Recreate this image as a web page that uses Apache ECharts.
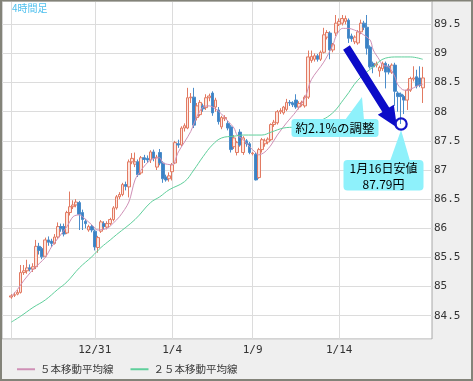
<!DOCTYPE html>
<html><head><meta charset="utf-8">
<script src="https://cdn.jsdelivr.net/npm/echarts@6/dist/echarts.min.js"></script>
<style>html,body{margin:0;padding:0;background:#fff}#c{width:473px;height:381px}</style>
</head><body><div id="c"></div><script>
// 4-hour candles [open, close, low, high]
const candles = [
[84.82,84.84,84.79,84.87],[84.85,84.86,84.82,84.90],[84.87,84.90,84.85,84.94],[84.90,85.24,84.88,85.37],
[85.24,85.27,85.20,85.37],[85.27,85.32,85.22,85.46],[85.32,85.30,85.26,85.38],[85.30,85.34,85.25,85.40],
[85.34,85.69,85.30,85.80],[85.69,85.62,85.55,85.75],[85.65,85.51,85.47,85.68],[85.52,85.80,85.50,85.84],
[85.80,85.76,85.70,85.86],[85.78,85.74,85.68,85.82],[85.74,85.85,85.72,85.90],[85.85,86.03,85.82,86.10],
[86.03,85.99,85.94,86.08],[86.03,85.90,85.86,86.08],[85.92,86.27,85.90,86.30],[86.27,86.37,86.22,86.63],
[86.37,86.40,86.33,86.48],[86.40,86.45,86.36,86.50],[86.44,86.24,85.97,86.47],[86.27,86.15,85.97,86.32],
[86.12,86.08,86.00,86.16],[85.97,86.03,85.94,86.06],[86.03,85.97,85.93,86.06],[85.95,85.68,85.62,85.98],
[85.67,85.84,85.58,85.87],[85.95,86.11,85.92,86.14],[86.08,86.03,85.98,86.12],[86.02,86.08,85.98,86.12],
[86.08,86.15,86.05,86.18],[86.15,86.35,86.12,86.38],[86.35,86.54,86.32,86.57],[86.54,86.58,86.50,86.62],
[86.58,86.75,86.55,86.78],[86.75,86.72,86.65,86.80],[86.71,87.14,86.53,87.18],[87.14,87.20,87.10,87.29],
[87.10,87.14,87.05,87.30],[87.14,86.92,86.88,87.18],[86.95,87.21,86.92,87.24],[87.21,87.18,87.12,87.26],
[87.20,87.17,87.12,87.25],[87.17,87.31,87.12,87.34],[87.31,87.20,87.15,87.35],[87.05,87.22,87.00,87.26],
[87.30,87.12,87.08,87.36],[87.12,86.85,86.78,87.15],[86.88,86.83,86.80,86.92],[86.85,86.90,86.80,86.96],
[86.97,87.09,86.82,87.12],[87.12,87.47,87.10,87.50],[87.45,87.43,87.38,87.52],[87.43,87.72,87.40,87.75],
[87.72,87.76,87.66,87.80],[87.72,88.24,87.70,88.41],[88.24,88.25,88.15,88.32],[88.25,87.77,87.72,88.41],
[87.90,88.10,87.85,88.15],[87.95,88.16,87.92,88.20],[88.10,88.05,88.00,88.14],[88.07,88.24,88.03,88.30],
[88.24,88.27,88.18,88.31],[88.32,87.98,87.93,88.35],[88.08,88.20,88.00,88.24],[88.03,87.83,87.78,88.08],
[87.74,87.90,87.70,87.93],[87.88,87.90,87.84,87.94],[87.80,87.72,87.68,87.84],[87.74,87.35,87.30,87.77],
[87.40,87.55,87.36,87.60],[87.30,87.47,87.25,87.50],[87.65,87.43,87.40,87.70],[87.30,87.55,87.26,87.58],
[87.50,87.45,87.40,87.53],[87.45,87.30,87.27,87.48],[87.28,87.29,87.25,87.31],[87.27,86.83,86.82,87.30],
[86.87,87.35,86.85,87.38],[87.35,87.52,87.30,87.55],[87.45,87.50,87.40,87.54],[87.48,87.53,87.44,87.56],
[87.52,87.78,87.50,87.80],[87.78,87.82,87.74,87.86],[87.81,88.00,87.78,88.03],[88.00,88.02,87.96,88.06],
[87.98,88.08,87.95,88.10],[88.04,88.16,88.01,88.22],[88.16,88.15,88.10,88.20],[88.15,88.12,88.08,88.18],
[88.20,88.08,88.05,88.30],[88.08,88.14,88.04,88.18],[88.12,88.16,88.09,88.19],[88.10,88.25,88.07,88.28],
[88.25,88.94,88.22,89.05],[88.88,88.95,88.84,89.05],[88.90,88.96,88.86,89.00],[88.96,88.90,88.86,88.99],
[88.90,89.02,88.87,89.05],[89.02,89.32,89.00,89.44],[89.28,89.36,89.24,89.40],[89.35,89.06,88.90,89.38],
[89.06,89.15,89.02,89.18],[89.35,89.52,89.30,89.66],[89.50,89.55,89.47,89.60],[89.52,89.60,89.48,89.66],
[89.55,89.60,89.50,89.65],[89.57,89.26,89.18,89.60],[89.30,89.25,89.20,89.34],[89.20,89.28,89.16,89.31],
[89.18,89.37,89.15,89.40],[89.37,89.52,89.33,89.58],[89.52,89.45,89.40,89.56],[89.45,89.09,88.98,89.66],
[89.11,88.77,88.74,89.14],[88.83,88.77,88.66,88.86],[88.80,88.82,88.76,88.86],[88.70,88.76,88.60,88.79],
[88.74,88.83,88.70,88.86],[88.83,88.68,88.40,88.86],[88.78,88.68,88.64,88.82],[88.68,88.80,88.65,88.83],
[88.80,88.35,88.10,88.84],[88.32,88.26,88.00,88.35],[88.30,88.26,87.79,88.33],[88.26,88.20,87.96,88.29],
[88.20,88.37,88.03,88.40],[88.37,88.57,88.34,88.60],[88.56,88.58,88.52,88.78],[88.60,88.44,88.40,88.72],
[88.58,88.45,88.42,88.78],[88.41,88.58,88.15,88.77]
];
// moving averages: [bar index, value]
const ma5 = [[0,84.83],[2,84.95],[4,85.10],[7,85.29],[11,85.50],[13,85.68],[18,86.03],[20,86.20],[22,86.23],[23,86.20],[26,86.06],[28,85.97],[31,86.00],[33,86.09],[35,86.20],[38,86.45],[40,86.83],[42,87.00],[45,87.17],[48,87.21],[49,87.12],[52,87.09],[54,87.31],[56,87.48],[58,87.66],[60,87.92],[62,88.08],[64,88.10],[66,88.05],[68,87.96],[70,87.84],[72,87.72],[73,87.60],[75,87.52],[77,87.40],[79,87.30],[80,87.26],[82,87.31],[84,87.43],[86,87.60],[89,87.81],[92,88.00],[95,88.25],[97,88.55],[101,88.85],[104,89.15],[105,89.30],[107,89.43],[109,89.43],[111,89.40],[113,89.35],[116,89.23],[117,89.06],[119,88.89],[120,88.80],[122,88.77],[124,88.60],[125,88.46],[127,88.37],[128,88.37],[130,88.41],[132,88.46],[133,88.47]];
const ma25 = [[0,84.39],[3,84.49],[7,84.64],[11,84.77],[15,84.95],[18,85.08],[22,85.32],[26,85.51],[29,85.67],[32,85.80],[34,85.89],[40,86.15],[45,86.44],[48,86.54],[51,86.66],[56,86.80],[59,87.00],[62,87.23],[65,87.43],[68,87.55],[72,87.58],[75,87.60],[81,87.60],[84,87.65],[88,87.72],[92,87.74],[97,87.80],[103,87.94],[108,88.25],[112,88.54],[117,88.77],[121,88.92],[125,88.94],[129,88.94],[133,88.90]];
const dayStarts = [0, 27, 52, 78, 106];
const dayLabels = ['', '12/31', '1/4', '1/9', '1/14'];
const seriesNames = ['５本移動平均線', '２５本移動平均線'];
const lowIndex = 126, lowValue = 87.79;
const titleText = '4時間足';
const note1 = '約2.1%の調整';
const note2 = ['1月16日安値', '87.79円'];

const PAD = 3;
const N = candles.length + PAD * 2;
const cats = [];
for (let i = 0; i < N; i++) cats.push('c' + i);
const labelAt = {};
dayStarts.forEach((d, k) => { labelAt[d + PAD] = dayLabels[k]; });
const candleData = [];
for (let i = 0; i < PAD; i++) candleData.push(['-', '-', '-', '-']);
candles.forEach(c => candleData.push(c));
for (let i = 0; i < PAD; i++) candleData.push(['-', '-', '-', '-']);
const shift = arr => arr.map(p => [p[0] + PAD, p[1]]);

const chart = echarts.init(document.getElementById('c'), null, { renderer: 'canvas' });
const mono = 'DejaVu Sans Mono';
const jp = 'Noto Sans CJK JP';
chart.setOption({
  animation: false,
  backgroundColor: '#efefef',
  grid: { left: 2, top: 1, right: 41, bottom: 42, show: true, backgroundColor: '#ffffff', borderColor: '#a8a8a8', borderWidth: 1 },
  legend: {
    left: 12, top: 359, itemWidth: 18, itemHeight: 2, itemGap: 17, icon: 'rect',
    textStyle: { fontFamily: jp, fontSize: 10.5, color: '#3a3a3a' },
    data: seriesNames
  },
  xAxis: {
    type: 'category', data: cats, boundaryGap: false,
    axisLine: { show: false }, axisTick: { show: false },
    axisLabel: { interval: (idx) => labelAt[idx] !== undefined && labelAt[idx] !== '', formatter: (v, idx) => labelAt[idx] || '', margin: 6, color: '#333', fontFamily: mono, fontSize: 11 },
    splitLine: { show: true, interval: (idx) => labelAt[idx] !== undefined, lineStyle: { color: '#dcdcdc', width: 1 } }
  },
  yAxis: {
    type: 'value', position: 'right', min: 84.1, max: 89.9, splitNumber: 12, scale: true,
    axisLine: { show: false }, axisTick: { show: false },
    axisLabel: { showMinLabel: false, showMaxLabel: false, margin: 2, color: '#333', fontFamily: mono, fontSize: 11 },
    splitLine: { show: true, lineStyle: { color: '#dcdcdc', width: 1 } }
  },
  series: [
    {
      type: 'candlestick', data: candleData, barWidth: 3.2, z: 3,
      itemStyle: { color: '#fde6df', color0: '#3b82c4', borderColor: '#e27a62', borderColor0: '#4a8cca', borderWidth: 1 }
    },
    { name: seriesNames[0], type: 'line', data: shift(ma5), smooth: 0.3, showSymbol: false, color: '#cf90b6', lineStyle: { width: 1, color: '#cf90b6' }, z: 4 },
    { name: seriesNames[1], type: 'line', data: shift(ma25), smooth: 0.4, showSymbol: false, color: '#5fcf9b', lineStyle: { width: 1, color: '#5fcf9b' }, z: 4 }
  ]
});

const [cx, cy] = chart.convertToPixel({ xAxisIndex: 0, yAxisIndex: 0 }, [lowIndex + PAD, lowValue]);
// arrow geometry
const S = [346.5, 47.5], T = [397, 127.5];
const dx = T[0] - S[0], dy = T[1] - S[1], L = Math.hypot(dx, dy);
const u = [dx / L, dy / L], n = [-u[1], u[0]];
const headLen = 21, headW = 9.5, shaftW = 4;
const B = [T[0] - headLen * u[0], T[1] - headLen * u[1]];
const P = (p, k, w) => [p[0] + k * n[0] * w, p[1] + k * n[1] * w];
const arrowPts = [P(S, 1, shaftW), P(B, 1, shaftW), P(B, 1, headW), T, P(B, -1, headW), P(B, -1, shaftW), P(S, -1, shaftW)];
const cyan = '#8ef1fb';
chart.setOption({
  graphic: [
    { type: 'rect', z: 200, silent: true, shape: { x: 1, y: 0.5, width: 471, height: 379.5 }, style: { fill: null, stroke: '#838379', lineWidth: 2 } },
    { type: 'text', z: 100, left: 12, top: 3, style: { text: titleText, fill: '#4fc0ee', font: '10px "Noto Sans CJK JP"' } },
    { type: 'polygon', z: 100, shape: { points: arrowPts }, style: { fill: '#0c0cc8' } },
    { type: 'polygon', z: 100, shape: { points: [[345, 120], [362, 97], [364, 120]] }, style: { fill: cyan } },
    { type: 'rect', z: 100, shape: { x: 291.5, y: 119, width: 87, height: 18, r: 3 }, style: { fill: cyan } },
    { type: 'text', z: 101, x: 335, y: 128, style: { text: note1, fill: '#000', font: '12.5px "Noto Sans CJK JP"', align: 'center', verticalAlign: 'middle' } },
    { type: 'polygon', z: 100, shape: { points: [[390, 161], [cx, cy + 6], [410, 161]] }, style: { fill: cyan } },
    { type: 'rect', z: 100, shape: { x: 343.5, y: 160, width: 80, height: 30.5, r: 4 }, style: { fill: cyan } },
    { type: 'text', z: 101, x: 383.5, y: 168.5, style: { text: note2[0], fill: '#000', font: '12px "Noto Sans CJK JP"', align: 'center', verticalAlign: 'middle' } },
    { type: 'text', z: 101, x: 383.5, y: 184.5, style: { text: note2[1], fill: '#000', font: '12px "Noto Sans CJK JP"', align: 'center', verticalAlign: 'middle' } },
    { type: 'circle', z: 100, shape: { cx: cx, cy: cy, r: 5.6 }, style: { fill: null, stroke: '#1414c8', lineWidth: 2.2 } }
  ]
});
</script></body></html>
